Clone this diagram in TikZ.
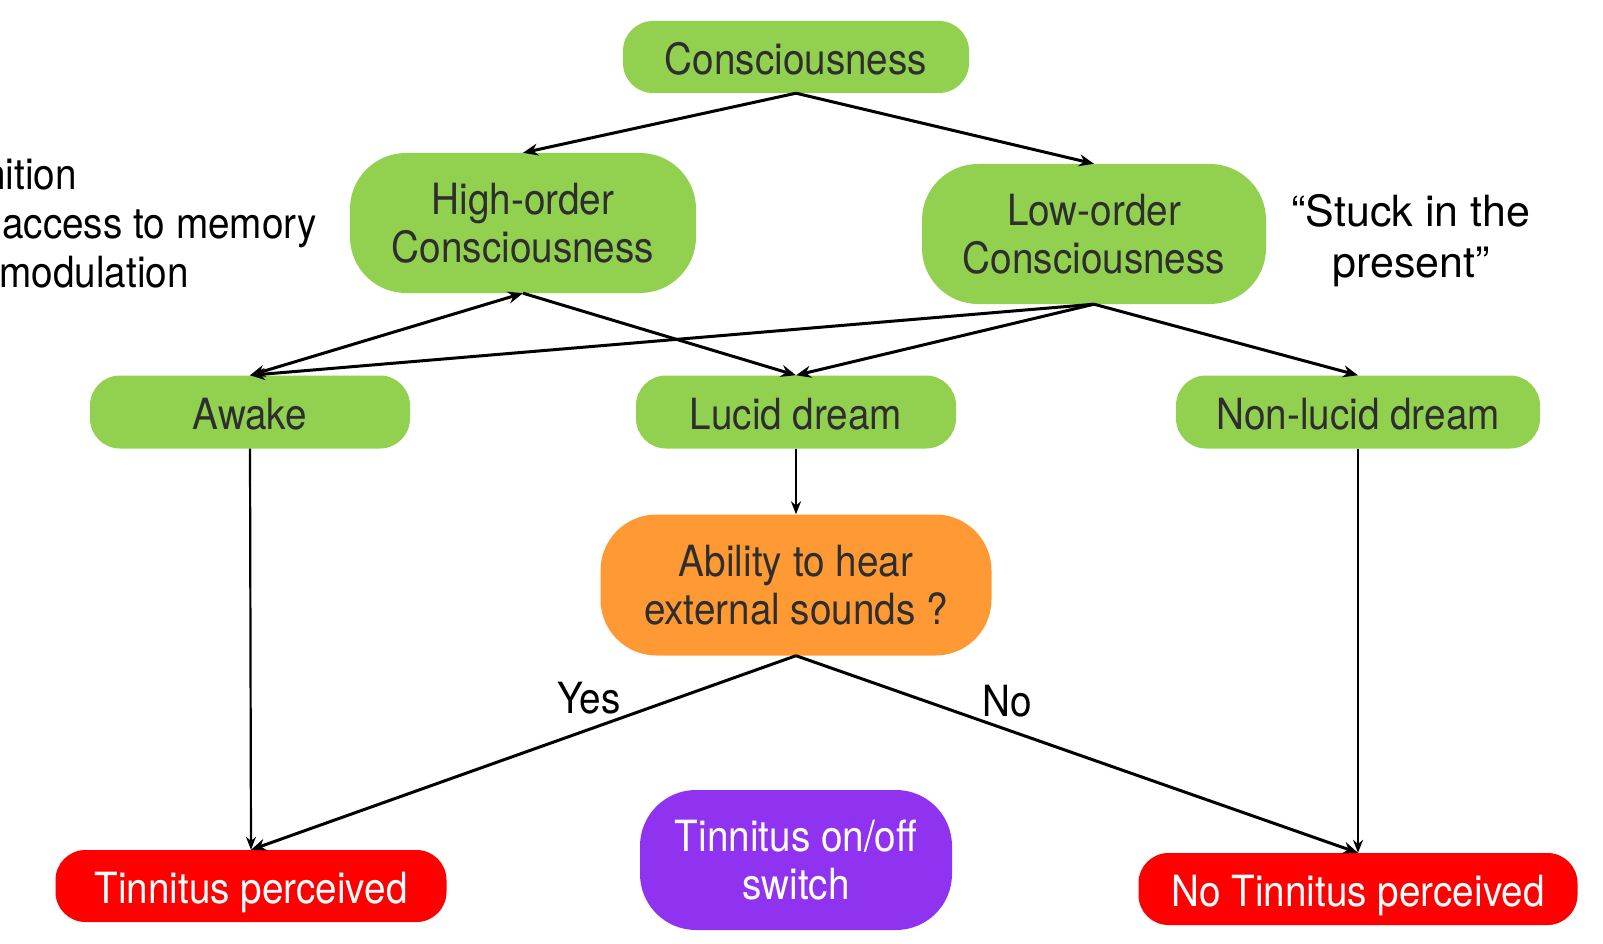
\documentclass[tikz,border=0pt]{standalone}
\usepackage{fontspec}
\setmainfont{TeX Gyre Heros}
\newfontfamily\condfont[FakeStretch=0.9]{TeX Gyre Heros}
\usetikzlibrary{arrows.meta}
\definecolor{boxgreen}{HTML}{92D050}
\definecolor{boxorange}{HTML}{FF9933}
\definecolor{boxred}{HTML}{FF0000}
\definecolor{boxpurple}{HTML}{9033F0}
\definecolor{darktext}{HTML}{2E2E2E}
\tikzset{
  base/.style={rectangle, inner sep=0pt, align=center, font=\condfont\fontsize{43}{48}\selectfont},
  greenbox/.style={base, fill=boxgreen, text=darktext},
  orangebox/.style={base, fill=boxorange, text=darktext},
  redbox/.style={base, fill=boxred, text=white},
  purplebox/.style={base, fill=boxpurple, text=white},
  short/.style={rounded corners=30pt, text height=35pt, text depth=0pt},
  tall/.style={rounded corners=56pt},
  arr/.style={line width=3pt, -{Stealth[length=15pt,width=12pt]}},
  varr/.style={line width=2.2pt, -{Stealth[length=13pt,width=10pt]}},
  plain/.style={font=\condfont\fontsize{43}{48}\selectfont, text=black, inner sep=0pt},
}
\begin{document}
\begin{tikzpicture}[x=1pt,y=-1pt]
\clip (0,0) rectangle (1603,944);
\fill[white] (0,0) rectangle (1603,944);

\node[greenbox, short, minimum width=346pt, minimum height=72pt] (cons) at (796,57) {Consciousness};
\node[greenbox, tall, minimum width=346pt, minimum height=140pt] (high) at (523,223) {High-order\\Consciousness};
\node[greenbox, tall, minimum width=344pt, minimum height=140pt] (low) at (1094,234) {Low-order\\Consciousness};
\node[greenbox, short, minimum width=320pt, minimum height=73pt] (awake) at (250,412) {Awake};
\node[greenbox, short, minimum width=320pt, minimum height=73pt] (lucid) at (796,412) {Lucid dream};
\node[greenbox, short, minimum width=364pt, minimum height=73pt] (nonlucid) at (1358,412) {Non-lucid dream};
\node[orangebox, tall, minimum width=391pt, minimum height=141pt] (ability) at (796,585) {Ability to hear\\external sounds ?};
\node[redbox, short, minimum width=391pt, minimum height=72pt] (tp) at (251,886) {Tinnitus perceived};
\node[purplebox, tall, minimum width=312pt, minimum height=140pt] (switch) at (796,860) {Tinnitus on/off\\switch};
\node[redbox, short, minimum width=439pt, minimum height=72pt] (ntp) at (1358,889) {No Tinnitus perceived};

\node[plain, anchor=base east] (t1) at (77,190) {nition};
\node[plain, anchor=base east] (t2) at (317,238) {access to memory};
\node[plain, anchor=base east] (t3) at (189,287) {modulation};
\node[plain, align=center, font=\fontsize{43}{51}\selectfont] (stuck) at (1411,241) {“Stuck in the\\present”};

\draw[arr] (cons.south) -- (high.north);
\draw[arr] (cons.south) -- (low.north);
\draw[arr, {Stealth[length=15pt,width=12pt]}-{Stealth[length=15pt,width=12pt]}] (awake.north) -- (high.south);
\draw[arr] (high.south) -- (lucid.north);
\draw[arr] (low.south) -- (awake.north);
\draw[arr] (low.south) -- (lucid.north);
\draw[arr] (low.south) -- (nonlucid.north);
\draw[varr] (awake.south) -- (tp.north);
\draw[varr] (lucid.south) -- (ability.north);
\draw[varr] (nonlucid.south) -- (ntp.north);
\draw[arr] (ability.south) -- (tp.north);
\draw[arr] (ability.south) -- (ntp.north);

\node[plain] (yes) at (589,698) {Yes};
\node[plain] (no) at (1007,701) {No};
\end{tikzpicture}
\end{document}
